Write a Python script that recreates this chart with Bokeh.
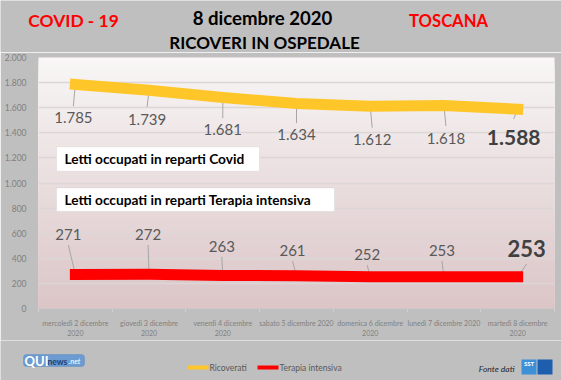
from bokeh.plotting import figure
from bokeh.layouts import column
from bokeh.models import Range1d, FixedTicker, Label, BoxAnnotation
from bokeh.core.properties import value
from bokeh.embed import file_html
from bokeh.resources import INLINE

# ---------------- data ----------------
categories = ["mercoledì 2 dicembre\n2020", "giovedì 3 dicembre\n2020", "venerdì 4 dicembre\n2020",
              "sabato 5 dicembre 2020", "domenica 6 dicembre\n2020", "lunedì 7 dicembre 2020",
              "martedì 8 dicembre\n2020"]
ricoverati = [1785, 1739, 1681, 1634, 1612, 1618, 1588]
terapia_intensiva = [271, 272, 263, 261, 252, 253, 253]
y_ticks = [0, 200, 400, 600, 800, 1000, 1200, 1400, 1600, 1800, 2000]
y_tick_labels = ["0", "200", "400", "600", "800", "1.000", "1.200", "1.400", "1.600", "1.800", "2.000"]
series_names = ["Ricoverati", "Terapia intensiva"]

def fmt(v):
    return f"{v:,}".replace(",", ".")

# ---------------- layout constants (canvas pixels) ----------------
W, H = 561, 380
TOP_H = 52                                  # title strip height
FL, FR, FT, FB = 38, 554, 57, 313           # main frame edges in canvas px
MAIN_BOTTOM = 340
BOT_H = H - MAIN_BOTTOM
PXU = (FR - FL) / 7.0                       # px per category
UPX = 2000.0 / (FB - FT)                    # data units per px

def X(px):
    return (px - FL) / PXU - 0.5

def Y(py):
    return (FB - py) * UPX

FONT = "Lato"
YELLOW = "#ffc629"
RED = "#ff0000"
GRAY_TXT = "#595959"
BG = "#bfbfbf"

# ================= main chart =================
p = figure(width=W, height=MAIN_BOTTOM - TOP_H, output_backend="svg", toolbar_location=None,
           x_range=Range1d(-0.5, 6.5), y_range=Range1d(0, 2000),
           min_border_left=FL, min_border_right=W - FR, min_border_top=FT - TOP_H,
           min_border_bottom=MAIN_BOTTOM - FB)
p.border_fill_color = BG
p.background_fill_color = "#dbc4c6"
p.outline_line_color = None

# background gradient (decoration): overlapping strips, drawn top to bottom
N = 64
top_c = (0xf8, 0xf6, 0xf6)
bot_c = (0xdb, 0xc5, 0xc7)
strip_t, strip_col = [], []
for k in range(N):
    t = (k + 0.5) / N
    c = tuple(int(round(top_c[j] * (1 - t) + bot_c[j] * t)) for j in range(3))
    strip_t.append(2000 - 2000 * k / N)
    strip_col.append("#%02x%02x%02x" % c)
p.quad(left=[-0.5] * N, right=[6.5] * N, top=strip_t, bottom=[0] * N, fill_color=strip_col,
       line_color=None, level="image")

# grid
p.xgrid.grid_line_color = None
p.ygrid.grid_line_color = "#dcd6d6"
p.ygrid.grid_line_width = 1.3
p.ygrid.ticker = FixedTicker(ticks=y_ticks)

# axes
p.yaxis.ticker = FixedTicker(ticks=y_ticks)
p.yaxis.major_label_overrides = {t: l for t, l in zip(y_ticks, y_tick_labels)}
p.yaxis.axis_line_color = None
p.yaxis.major_tick_line_color = None
p.yaxis.minor_tick_line_color = None
p.yaxis.major_label_text_font = FONT
p.yaxis.major_label_text_font_size = "8.5px"
p.yaxis.major_label_text_color = "#7f7f7f"
p.yaxis.major_label_standoff = 6

xt = list(range(len(categories)))
p.xaxis.ticker = FixedTicker(ticks=xt, minor_ticks=[i - 0.5 for i in range(len(categories) + 1)])
p.xaxis.major_label_overrides = {i: c for i, c in zip(xt, categories)}
p.xaxis.axis_line_color = "#d0c8c8"
p.xaxis.major_tick_line_color = None
p.xaxis.minor_tick_line_color = "#d0d0d0"
p.xaxis.minor_tick_in = 0
p.xaxis.minor_tick_out = 4
p.xaxis.major_label_text_font = FONT
p.xaxis.major_label_text_font_size = "7px"
p.xaxis.major_label_text_color = "#7f7f7f"
p.xaxis.major_label_text_line_height = 1.35
p.xaxis.major_label_standoff = 4

# ---------------- label placement styles (px) ----------------
y_dx = [-2, -2, 0, 0, 2, 2, -4]          # label x offset from category centre
y_dy = [34, 30, 33, 32, 34, 34, 29]      # label centre below line centre
y_gap = [12, 13, 12, 12, 12, 13, 19]     # leader stops this far above label centre
r_dx = [-7, -1, -1, -4, -3, -2, 9]
r_dy = [41, 41, 30, 26, 23, 27, 29]      # label centre above line centre
r_gap = [11, 11, 11, 11, 11, 11, 16]

# leaders
yl_x1 = [i + dx / PXU for i, dx in zip(xt, y_dx)]
yl_y1 = [v - (dy - g) * UPX for v, dy, g in zip(ricoverati, y_dy, y_gap)]
p.segment(x0=xt, y0=ricoverati, x1=yl_x1, y1=yl_y1, line_color="#a6a6a6", line_width=1)

rl_x1 = [i + dx / PXU for i, dx in zip(xt, r_dx)]
rl_y1 = [v + (dy - g) * UPX for v, dy, g in zip(terapia_intensiva, r_dy, r_gap)]
p.segment(x0=xt, y0=terapia_intensiva, x1=rl_x1, y1=rl_y1, line_color="#a6a6a6", line_width=1)

# lines
p.line(xt, ricoverati, line_color=YELLOW, line_width=11, line_cap="square", line_join="round")
p.line(xt, terapia_intensiva, line_color=RED, line_width=11, line_cap="square", line_join="round")

# data labels
ylab_x = [i + dx / PXU for i, dx in zip(xt, y_dx)]
ylab_y = [v - dy * UPX for v, dy in zip(ricoverati, y_dy)]
ylab_t = [fmt(v) for v in ricoverati]
p.text(x=ylab_x[:-1], y=ylab_y[:-1], text=ylab_t[:-1], text_font=value(FONT),
       text_font_size="15px", text_color=GRAY_TXT, text_align="center", text_baseline="middle")
p.text(x=ylab_x[-1:], y=ylab_y[-1:], text=ylab_t[-1:], text_font=value(FONT),
       text_font_size="21px", text_font_style="bold", text_color="#404040",
       text_align="center", text_baseline="middle")

rlab_x = [i + dx / PXU for i, dx in zip(xt, r_dx)]
rlab_y = [v + dy * UPX for v, dy in zip(terapia_intensiva, r_dy)]
rlab_t = [fmt(v) for v in terapia_intensiva]
p.text(x=rlab_x[:-1], y=rlab_y[:-1], text=rlab_t[:-1], text_font=value(FONT),
       text_font_size="15px", text_color=GRAY_TXT, text_align="center", text_baseline="middle")
p.text(x=rlab_x[-1:], y=rlab_y[-1:], text=rlab_t[-1:], text_font=value(FONT),
       text_font_size="22px", text_font_style="bold", text_color="#404040",
       text_align="center", text_baseline="middle")

# annotation boxes inside the plot
for (l, r, t, b, txt) in [(56, 259, 148, 173, "Letti occupati in reparti Covid"),
                          (56, 334, 190, 214, "Letti occupati in reparti Terapia intensiva")]:
    p.add_layout(BoxAnnotation(left=X(l), right=X(r), top=Y(t), bottom=Y(b),
                               fill_color="white", fill_alpha=1, line_color="#c8c8c8",
                               line_width=1, level="annotation"))
    p.add_layout(Label(x=X(l + 8), y=Y((t + b) / 2), text=txt, text_font=FONT,
                       text_font_size="13.7px", text_font_style="bold", text_color="black",
                       text_baseline="middle", text_align="left"))


# ================= helper strips (title / footer) =================
def strip(h, y0):
    f = figure(width=W, height=h, output_backend="svg", toolbar_location=None,
               x_range=Range1d(0, W), y_range=Range1d(y0 + h, y0),
               x_axis_location=None, y_axis_location=None, min_border=0,
               frame_align=False)
    f.grid.grid_line_color = None
    f.outline_line_color = None
    f.background_fill_color = BG
    f.border_fill_color = BG
    return f

def lab(f, x, y, text, size, color="black", style="bold", align="center"):
    f.add_layout(Label(x=x, y=y, text=text, text_font=FONT, text_font_size=size,
                       text_font_style=style, text_color=color, text_align=align,
                       text_baseline="middle"))

top = strip(TOP_H, 0)
lab(top, 73, 20, "COVID - 19", "17.4px", RED)
lab(top, 262, 17, "8 dicembre 2020", "18.6px")
lab(top, 448, 20, "TOSCANA", "16.6px", RED)
lab(top, 264, 41.5, "RICOVERI IN OSPEDALE", "17px")

bot = strip(BOT_H, MAIN_BOTTOM)
# legend
for (l, r, col, txt) in [(187, 208, YELLOW, series_names[0]), (257, 278, RED, series_names[1])]:
    bot.add_layout(BoxAnnotation(left=l, right=r, top=365, bottom=369,
                                 fill_color=col, fill_alpha=1, line_color=None))
    lab(bot, r + 1, 367, txt, "8.5px", GRAY_TXT, "normal", "left")

# logo QUInews
bot.add_layout(BoxAnnotation(left=23, right=84, top=354, bottom=366,
                             fill_color="#6b9bd1", fill_alpha=1, line_color="#4a7ab5",
                             border_radius=3))
lab(bot, 24, 360, "QUI", "13px", "white", "bold", "left")
lab(bot, 47, 361, "news", "8.5px", "#1f3f73", "bold", "left")
lab(bot, 68, 361, ".net", "7.5px", "white", "italic", "left")

# source
lab(bot, 514, 368, "Fonte dati", "8.5px", "#262626", "italic", "right")
bot.add_layout(BoxAnnotation(left=521, right=536, top=359, bottom=374,
                             fill_color="#3d8fd8", fill_alpha=1, line_color=None))
bot.add_layout(BoxAnnotation(left=537, right=552, top=359, bottom=374,
                             fill_color="#1d5fae", fill_alpha=1, line_color=None))
lab(bot, 528.5, 363, "SST", "6px", "white", "bold", "center")

layout = column(top, p, bot, spacing=0)
open("out.html", "w").write(file_html(layout, INLINE))
